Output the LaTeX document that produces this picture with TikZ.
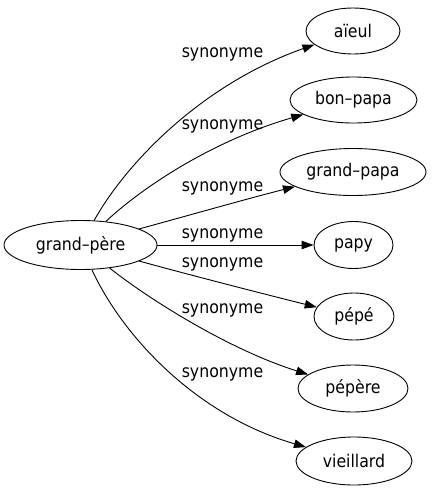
\documentclass[tikz,border=0pt]{standalone}
\usepackage{fontspec}
\setmainfont{DejaVu Sans Condensed}
\usetikzlibrary{shapes.geometric,arrows.meta}
\begin{document}
\begin{tikzpicture}[x=1pt,y=-1pt,
  every node/.style={font=\fontsize{17.5}{20}\selectfont, text=black},
  word/.style={draw=black, ellipse, inner sep=0pt, line width=0.9pt},
  lab/.style={inner sep=0pt},
  edge/.style={draw=black, line width=0.9pt, -{Triangle[length=12pt,width=8.5pt]}}]
\useasboundingbox (0,0) rectangle (432,491);
\node[word, minimum width=153pt, minimum height=49pt] (gp) at (80.5,245) {grand–père};
\node[word, minimum width=94pt, minimum height=46pt] (a1) at (353,31) {aïeul};
\node[word, minimum width=127pt, minimum height=46pt] (bp) at (353.5,100) {bon–papa};
\node[word, minimum width=146pt, minimum height=47pt] (gpp) at (353,172) {grand–papa};
\node[word, minimum width=79pt, minimum height=47pt] (papy) at (353.5,245) {papy};
\node[word, minimum width=80pt, minimum height=47pt] (pepe) at (354,316.5) {pépé};
\node[word, minimum width=110pt, minimum height=47pt] (pepere) at (353,388.5) {pépère};
\node[word, minimum width=116pt, minimum height=48pt] (vieil) at (354,461) {vieillard};
\node[lab] (l1) at (222.5,54) {synonyme};
\node[lab] (l2) at (222.5,126) {synonyme};
\node[lab] (l3) at (222.5,188) {synonyme};
\node[lab] (l4) at (222.5,235) {synonyme};
\node[lab] (l5) at (222.5,264) {synonyme};
\node[lab] (l6) at (222.5,310) {synonyme};
\node[lab] (l7) at (222.5,374) {synonyme};
\draw[edge] (gp) .. controls (125,165) and (200,85) .. (a1);
\draw[edge] (gp) .. controls (145,185) and (215,140) .. (bp);
\draw[edge] (gp) .. controls (190,215) and (250,198) .. (gpp);
\draw[edge] (gp) -- (papy);
\draw[edge] (gp) .. controls (190,275) and (260,293) .. (pepe);
\draw[edge] (gp) .. controls (150,300) and (230,350) .. (pepere);
\draw[edge] (gp) .. controls (122,335) and (195,415) .. (vieil);
\end{tikzpicture}
\end{document}
